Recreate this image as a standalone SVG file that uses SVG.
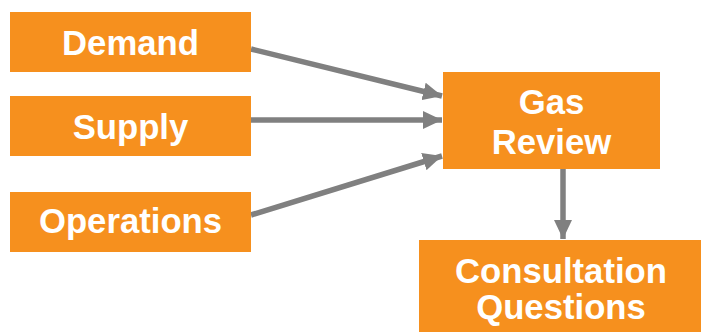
<svg xmlns="http://www.w3.org/2000/svg" width="701" height="332" viewBox="0 0 701 332">
<style>
.box{fill:#F6901E}
.t{font-family:"Liberation Sans",Arial,sans-serif;font-weight:bold;font-size:34.7px;fill:#fff;text-anchor:middle}
.c{stroke:#808080;stroke-width:5.5;fill:none}
</style>
<defs>
<marker id="ah" markerUnits="userSpaceOnUse" markerWidth="20" markerHeight="18" refX="19" refY="9" orient="auto">
<path d="M0,0 L19,9 L0,18 Z" fill="#808080"/>
</marker>
</defs>
<rect width="701" height="332" fill="#fff"/>
<g id="connectors">
<line class="c" x1="251" y1="49" x2="442" y2="96" marker-end="url(#ah)"/>
<line class="c" x1="251" y1="120" x2="442" y2="120" marker-end="url(#ah)"/>
<line class="c" x1="251" y1="215" x2="442" y2="156" marker-end="url(#ah)"/>
<line class="c" x1="563" y1="169" x2="563" y2="239" marker-end="url(#ah)"/>
</g>
<g id="demand"><rect class="box" x="10" y="12" width="241" height="60"/><text class="t" x="130.5" y="55">Demand</text></g>
<g id="supply"><rect class="box" x="10" y="96" width="241" height="60"/><text class="t" x="130.5" y="139">Supply</text></g>
<g id="operations"><rect class="box" x="10" y="192" width="241" height="60"/><text class="t" x="130.5" y="233">Operations</text></g>
<g id="gas-review"><rect class="box" x="443" y="72" width="217" height="97"/><text class="t" x="551.5" y="114">Gas</text><text class="t" x="551.5" y="154">Review</text></g>
<g id="consultation"><rect class="box" x="419" y="240" width="282" height="92"/><text class="t" x="561" y="283">Consultation</text><text class="t" x="561" y="319">Questions</text></g>
</svg>
